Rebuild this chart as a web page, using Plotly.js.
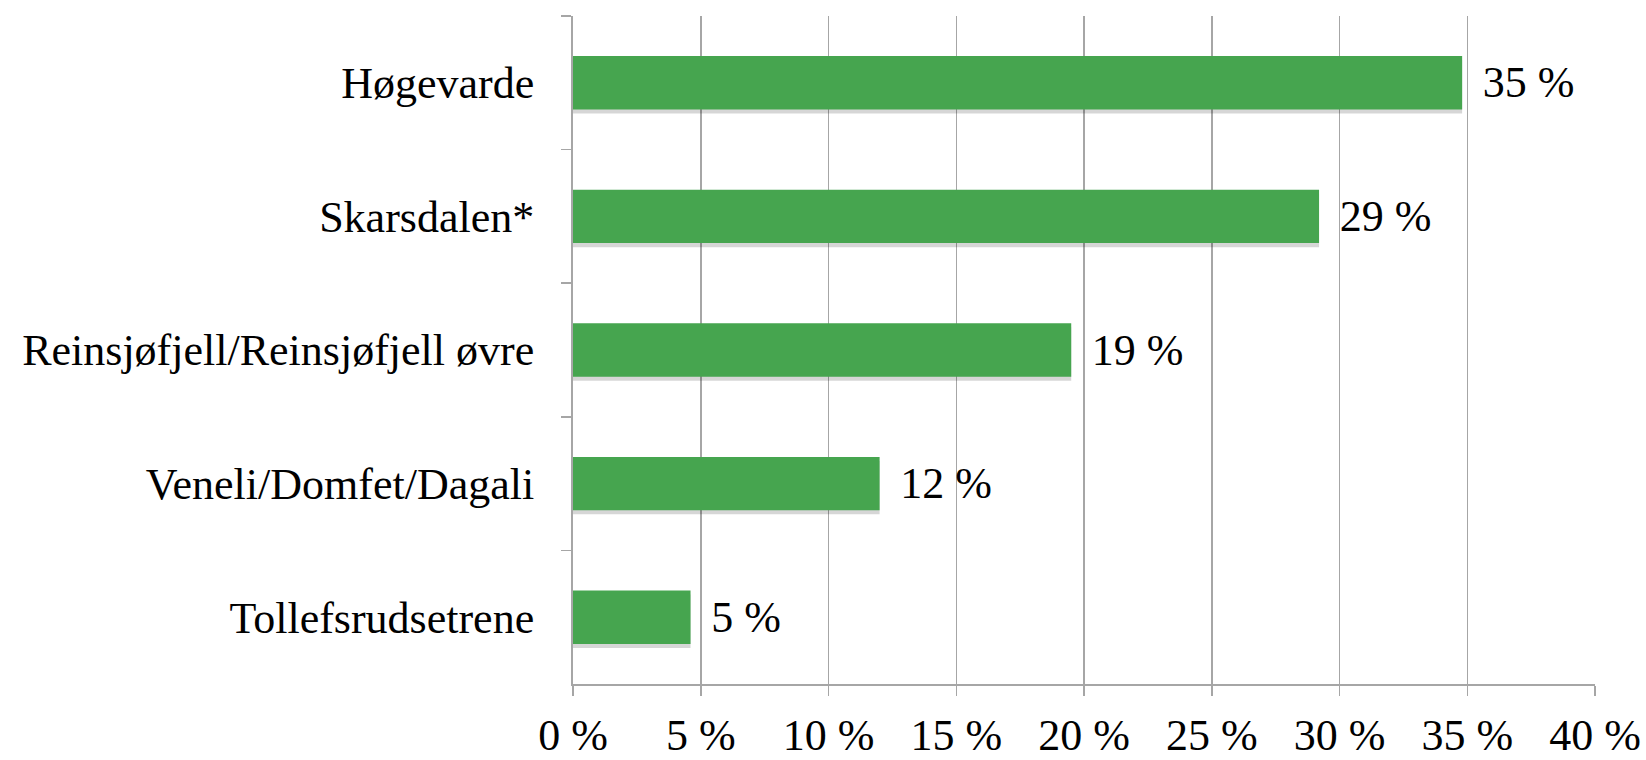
<!DOCTYPE html>
<html><head><meta charset="utf-8">
<script src="https://cdn.plot.ly/plotly-3.0.1.min.js"></script>
<style>html,body{margin:0;padding:0;background:#fff}</style>
</head><body>
<div id="chart" style="width:1646px;height:760px"></div>
<script>
const categories = ["Høgevarde", "Skarsdalen*", "Reinsjøfjell/Reinsjøfjell øvre", "Veneli/Domfet/Dagali", "Tollefsrudsetrene"];
const values = [34.8, 29.2, 19.5, 12.0, 4.6];
const labels = ["35 %", "29 %", "19 %", "12 %", "5 %"];

const FONT = "Liberation Serif, serif";
const shadow = {
  type: "bar", orientation: "h",
  y: categories, x: values,
  marker: {color: "rgba(0,0,0,0.16)"},
  width: 0.4, offset: -0.17, hoverinfo: "none"
};
const trace = {
  type: "bar", orientation: "h",
  y: categories, x: values,
  text: labels.map(t => "\u2009\u2009" + t), textposition: "outside",
  textfont: {family: FONT, size: 44, color: "#000"},
  marker: {color: "#46A54F"},
  width: 0.4, offset: -0.2, cliponaxis: false, hoverinfo: "none"
};
const layout = {
  width: 1646, height: 760,
  margin: {l: 573, r: 51, t: 16, b: 76},
  paper_bgcolor: "#fff", plot_bgcolor: "#fff",
  showlegend: false, barmode: "overlay",
  font: {family: FONT, size: 44, color: "#000"},
  xaxis: {
    range: [0, 40], dtick: 5, tick0: 0, ticksuffix: " %",
    showgrid: true, gridcolor: "#A6A6A6", gridwidth: 1.5,
    zeroline: false, showline: true, linecolor: "#A6A6A6", linewidth: 2,
    ticks: "outside", ticklen: 10, tickcolor: "#A6A6A6", tickwidth: 1.5,
    ticklabelstandoff: 1, tickfont: {family: FONT, size: 44}
  },
  yaxis: {
    autorange: "reversed", type: "category",
    showline: true, linecolor: "#A6A6A6", linewidth: 2,
    ticks: "outside", tickson: "boundaries", ticklen: 10, tickcolor: "#A6A6A6", tickwidth: 1.5,
    showgrid: false, ticklabelstandoff: 28, tickfont: {family: FONT, size: 44}
  }
};
Plotly.newPlot("chart", [shadow, trace], layout, {displayModeBar: false, staticPlot: true});
</script>
</body></html>
